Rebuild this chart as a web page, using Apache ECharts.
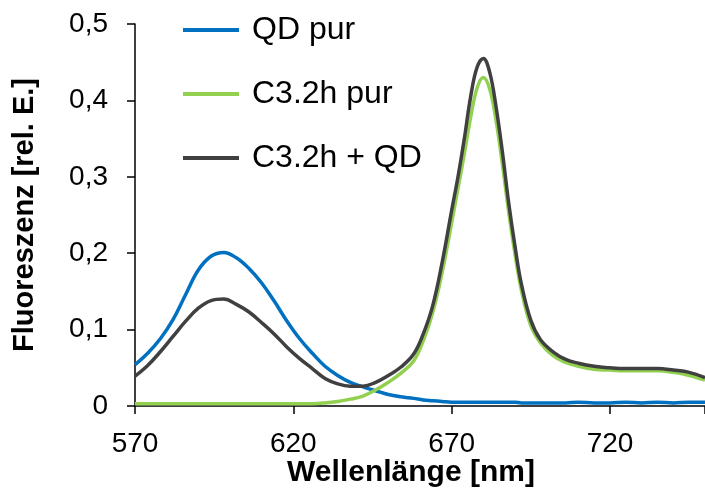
<!DOCTYPE html>
<html>
<head>
<meta charset="utf-8">
<script src="https://cdn.jsdelivr.net/npm/echarts@6/dist/echarts.min.js"></script>
<style>
  html, body { margin: 0; padding: 0; background: #fff; }
  #chart { width: 705px; height: 493px; }
</style>
</head>
<body>
<div id="chart"></div>
<script>
var myChart = echarts.init(document.getElementById('chart'));

// wavelengths in nm
var wellenlaenge = [570, 574, 578, 582, 586, 590, 594, 598, 602, 606, 610, 614, 618, 622, 626, 630,
    634, 638, 642, 646, 650, 654, 658, 661, 664, 667, 670, 672, 674, 676, 678, 680, 682, 684, 686,
    688, 690, 692, 695, 698, 702, 706, 710, 715, 720, 725, 730, 735, 740, 745, 750];

var qdPur = [0.054, 0.069, 0.088, 0.113, 0.146, 0.178, 0.196, 0.201, 0.194, 0.180, 0.161, 0.137,
    0.111, 0.088, 0.069, 0.052, 0.040, 0.031, 0.025, 0.020, 0.015, 0.012, 0.010, 0.008, 0.007,
    0.006, 0.005, 0.005, 0.005, 0.005, 0.005, 0.005, 0.005, 0.005, 0.005, 0.005, 0.005, 0.004,
    0.004, 0.004, 0.004, 0.004, 0.005, 0.004, 0.004, 0.005, 0.004, 0.005, 0.004, 0.005, 0.005];

var c32hPur = [0.003, 0.003, 0.003, 0.003, 0.003, 0.003, 0.003, 0.003, 0.003, 0.003, 0.003, 0.003,
    0.003, 0.003, 0.003, 0.004, 0.006, 0.009, 0.013, 0.021, 0.031, 0.043, 0.059, 0.085, 0.122,
    0.175, 0.240, 0.285, 0.330, 0.378, 0.416, 0.430, 0.415, 0.374, 0.317, 0.254, 0.199, 0.152,
    0.105, 0.083, 0.066, 0.057, 0.052, 0.048, 0.047, 0.046, 0.046, 0.046, 0.044, 0.040, 0.034];

var c32hQd = [0.039, 0.053, 0.071, 0.091, 0.111, 0.128, 0.138, 0.140, 0.133, 0.123, 0.109, 0.094,
    0.077, 0.062, 0.049, 0.036, 0.029, 0.026, 0.026, 0.031, 0.040, 0.051, 0.068, 0.094, 0.131,
    0.188, 0.256, 0.300, 0.350, 0.405, 0.443, 0.455, 0.437, 0.392, 0.333, 0.266, 0.209, 0.160,
    0.112, 0.087, 0.071, 0.061, 0.056, 0.052, 0.050, 0.049, 0.049, 0.049, 0.047, 0.044, 0.037];

var serienNamen = ['QD pur', 'C3.2h pur', 'C3.2h + QD'];
var farben = ['#0070C0', '#92D050', '#404040'];

var paare = function(werte) {
    return wellenlaenge.map(function(wl, i) { return [wl, werte[i]]; });
};

var font = 'Liberation Sans, Arial, sans-serif';

var makeSeries = function(i, werte) {
    return {
        name: serienNamen[i],
        type: 'line',
        data: paare(werte),
        smooth: 0.4,
        symbol: 'none',
        lineStyle: { color: farben[i], width: 3.5 },
        itemStyle: { color: farben[i] }
    };
};

option = {
    backgroundColor: '#fff',
    animation: false,
    textStyle: { fontFamily: font },
    grid: { left: 135, right: 0, top: 24, bottom: 87, outerBoundsMode: 'none', containLabel: false },
    legend: {
        orient: 'vertical',
        left: 178,
        top: 9,
        icon: 'rect',
        itemWidth: 56,
        itemHeight: 4,
        itemGap: 32,
        itemTextGap: 12,
        textStyle: { fontSize: 32, lineHeight: 32, color: '#000', fontFamily: font, padding: [0, 0, 0, 8] },
        data: serienNamen
    },
    xAxis: {
        type: 'value',
        min: 570,
        max: 750,
        interval: 50,
        axisLine: { lineStyle: { color: '#000', width: 1.5 } },
        axisTick: { length: 8, lineStyle: { color: '#000', width: 1.5 } },
        axisLabel: {
            fontSize: 28, color: '#000', margin: 24,
            formatter: function(v) { return v <= 720 ? String(v) : ''; }
        },
        splitLine: { show: false }
    },
    yAxis: {
        type: 'value',
        min: 0,
        max: 0.5,
        interval: 0.1,
        name: 'Fluoreszenz [rel. E.]',
        nameLocation: 'middle',
        nameGap: 96,
        nameTextStyle: { fontSize: 29, fontWeight: 'bold', color: '#000', fontFamily: font },
        axisLine: { show: true, lineStyle: { color: '#000', width: 1.5 } },
        axisTick: { show: true, length: 8, lineStyle: { color: '#000', width: 1.5 } },
        axisLabel: {
            fontSize: 28, color: '#000', margin: 27,
            formatter: function(v) { return v === 0 ? '0' : v.toFixed(1).replace('.', ','); }
        },
        splitLine: { show: false }
    },
    graphic: [{
        type: 'text',
        x: 411,
        y: 473,
        style: {
            text: 'Wellenlänge [nm]',
            font: 'bold 30px ' + font,
            fill: '#000',
            align: 'center',
            verticalAlign: 'middle'
        }
    }],
    series: [
        makeSeries(0, qdPur),
        makeSeries(1, c32hPur),
        makeSeries(2, c32hQd)
    ]
};

myChart.setOption(option);
</script>
</body>
</html>
